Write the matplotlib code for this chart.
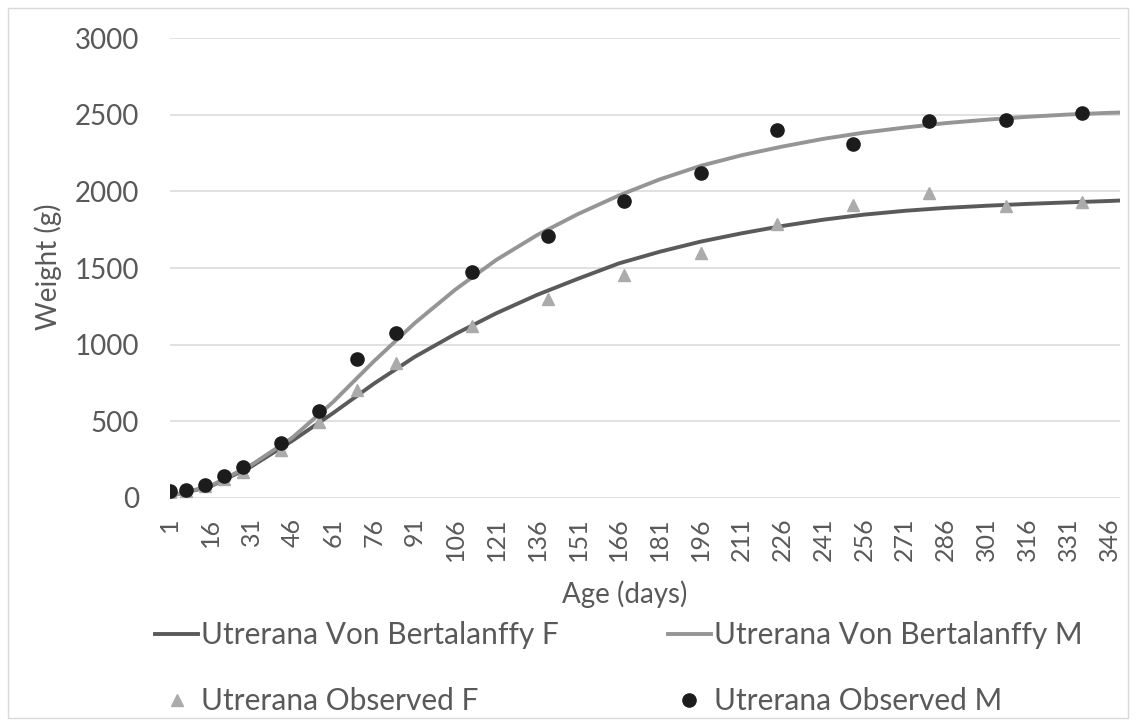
import matplotlib
matplotlib.use("Agg")
import matplotlib.pyplot as plt
from matplotlib.patches import Rectangle

plt.rcParams["font.family"] = ["Lato", "DejaVu Sans"]

# Von Bertalanffy fitted curves (weight in g), sampled at the axis label days
curve_days = [1, 16, 31, 46, 61, 76, 91, 106, 121, 136, 151, 166, 181, 196,
              211, 226, 241, 256, 271, 286, 301, 316, 331, 346, 350]
curve_f = [12, 75, 205, 372, 553, 745, 920, 1070, 1205, 1325, 1430, 1530, 1606,
           1672, 1726, 1774, 1815, 1848, 1873, 1892, 1906, 1918, 1928, 1937, 1940]
curve_m = [12, 78, 215, 392, 625, 891, 1140, 1360, 1553, 1715, 1852, 1973, 2078,
           2166, 2235, 2292, 2342, 2383, 2416, 2445, 2467, 2486, 2501, 2512, 2514]

# Observed mean weights (g)
obs_days = [1, 7, 14, 21, 28, 42, 56, 70, 84, 112, 140, 168, 196, 224, 252, 280, 308, 336]
obs_f = [38, 45, 78, 125, 172, 313, 493, 704, 878, 1121, 1295, 1456, 1600, 1784,
         1910, 1991, 1906, 1928]
obs_m = [45, 52, 85, 141, 202, 359, 569, 908, 1078, 1471, 1710, 1938, 2121, 2399,
         2310, 2458, 2463, 2512]

x_ticks = list(range(1, 347, 15))
y_ticks = [0, 500, 1000, 1500, 2000, 2500, 3000]

labels = ["Utrerana Von Bertalanffy F", "Utrerana Von Bertalanffy M",
          "Utrerana Observed F", "Utrerana Observed M"]

TEXT = "#595959"
W, H = 1136, 726

fig = plt.figure(figsize=(W / 100, H / 100), dpi=100)
fig.patch.set_facecolor("white")
fig.patches.append(Rectangle((8 / W, 8 / H), (W - 16) / W, (H - 16) / H,
                             transform=fig.transFigure, fill=False,
                             edgecolor="#d9d9d9", linewidth=1.0))

ax = fig.add_axes([169.5 / W, 1 - 498 / H, (1120 - 169.5) / W, 460 / H])

l_f, = ax.plot(curve_days, curve_f, color="#5a5a5a", lw=2.8, zorder=3)
l_m, = ax.plot(curve_days, curve_m, color="#959595", lw=2.8, zorder=3)
p_f, = ax.plot(obs_days, obs_f, ls="none", marker="^", ms=9, color="#ababab",
               mec="#ababab", zorder=4)
p_m, = ax.plot(obs_days, obs_m, ls="none", marker="o", ms=9.5, color="#1c1c1c",
               mec="#1c1c1c", zorder=5)

ax.set_xlim(1, 350)
ax.set_ylim(0, 3000)
ax.set_xticks(x_ticks)
ax.set_xticklabels([str(t) for t in x_ticks], rotation=90, fontsize=18, color=TEXT)
ax.set_yticks(y_ticks)
ax.set_yticklabels([str(t) for t in y_ticks], fontsize=20, color=TEXT)
ax.tick_params(axis="both", length=0)
ax.tick_params(axis="y", pad=22)
ax.tick_params(axis="x", pad=14)
ax.grid(axis="y", color="#d9d9d9", lw=1.1)
ax.set_axisbelow(True)
for s in ax.spines.values():
    s.set_visible(False)

fig.text(48 / W, 1 - 267 / H, "Weight (g)", rotation=90, ha="center", va="center",
         fontsize=20, color=TEXT)
fig.text(625 / W, 1 - 594 / H, "Age (days)", ha="center", va="center",
         fontsize=20, color=TEXT)

leg = fig.legend([l_f, p_f, l_m, p_m], [labels[0], labels[2], labels[1], labels[3]],
                 ncol=2, loc="upper left", bbox_to_anchor=(155 / W, 1 - 621 / H),
                 frameon=False, fontsize=21.5, handlelength=1.44, handletextpad=0.1,
                 columnspacing=3.65, labelspacing=1.28, borderpad=0, borderaxespad=0,
                 labelcolor=TEXT)

fig.savefig("out.png", dpi=100)
